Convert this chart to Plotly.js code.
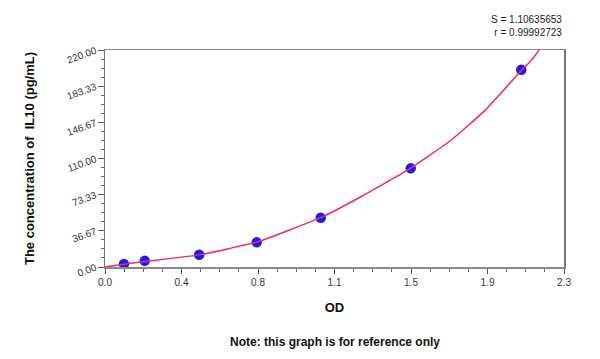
<!DOCTYPE html>
<html>
<head>
<meta charset="utf-8">
<script src="https://cdn.plot.ly/plotly-3.0.1.min.js"></script>
<style>html,body{margin:0;padding:0;background:#fff;}#chart{width:600px;height:359px;}</style>
</head>
<body>
<div id="chart"></div>
<script>
// Standard points (OD vs concentration)
const pointOD = [0.095, 0.199, 0.472, 0.760, 1.081, 1.532, 2.086];
const pointConc = [3.125, 6.25, 12.5, 25, 50, 100, 200];

// Fitted curve
const curveOD = [0, 0.095, 0.2, 0.47, 0.76, 1.08, 1.28, 1.53, 1.73, 1.9, 2.09, 2.14, 2.175];
const curveConc = [0, 2.8, 5.6, 12.3, 25.2, 50, 71, 100, 128, 158, 200, 210.4, 220];

// Tick labels
const xTickVals = [0, 0.38333, 0.76667, 1.15, 1.53333, 1.91667, 2.3];
const xTickText = ['0.0', '0.4', '0.8', '1.1', '1.5', '1.9', '2.3'];
const yTickVals = [0, 36.667, 73.333, 110, 146.667, 183.333, 220];
const yTickText = ['0.00', '36.67', '73.33', '110.00', '146.67', '183.33', '220.00'];

const fontFam = '"Liberation Sans", Arial, sans-serif';

const traces = [
  {
    x: pointOD, y: pointConc, type: 'scatter', mode: 'markers',
    marker: {color: '#1c1cf0', size: 10.5, line: {width: 0}},
    hoverinfo: 'skip', cliponaxis: false
  },
  {
    x: curveOD, y: curveConc, type: 'scatter', mode: 'lines',
    line: {color: '#f02a66', width: 1.5, shape: 'spline', smoothing: 0.4},
    hoverinfo: 'skip'
  }
];

const layout = {
  width: 600, height: 359,
  margin: {l: 105, r: 36, t: 50, b: 92},
  paper_bgcolor: '#fff', plot_bgcolor: '#fff',
  showlegend: false,
  font: {family: fontFam, size: 10, color: '#333'},
  xaxis: {
    range: [0, 2.3], tickmode: 'array', tickvals: xTickVals, ticktext: xTickText,
    ticks: 'outside', ticklen: 5, tickwidth: 1, tickcolor: '#555',
    showgrid: false, zeroline: false,
    showline: true, linecolor: '#888', linewidth: 1.5, mirror: true,
    tickfont: {family: fontFam, size: 10, color: '#333'},
    minor: {tickmode: 'linear', tick0: 0, dtick: 2.3 / 24, ticks: 'outside', ticklen: 3, tickcolor: '#666', showgrid: false},
    title: {text: '<b>OD</b>', font: {family: fontFam, size: 13, color: '#111'}, standoff: 16}
  },
  yaxis: {
    range: [0, 220], tickmode: 'array', tickvals: yTickVals, ticktext: yTickText,
    ticks: 'outside', ticklen: 6, tickwidth: 1, tickcolor: '#555', tickangle: -20,
    showgrid: false, zeroline: false,
    showline: true, linecolor: '#777', linewidth: 1.5, mirror: true,
    tickfont: {family: fontFam, size: 10, color: '#333'},
    minor: {tickmode: 'linear', tick0: 0, dtick: 220 / 24, ticks: 'outside', ticklen: 3, tickcolor: '#666', showgrid: false},
    title: {text: '<b>The concentration of  IL10 (pg/mL)</b>', font: {family: fontFam, size: 13, color: '#111'}, standoff: 28}
  },
  annotations: [
    {xref: 'paper', yref: 'paper', x: 1, y: 1, xanchor: 'right', yanchor: 'bottom', yshift: 10,
     text: 'S = 1.10635653<br>r = 0.99992723', showarrow: false, align: 'right',
     font: {family: fontFam, size: 10, color: '#222'}},
    {xref: 'paper', yref: 'paper', x: 0.5, y: 0, xanchor: 'center', yanchor: 'middle', yshift: -75,
     text: '<b>Note: this graph is for reference only</b>', showarrow: false,
     font: {family: fontFam, size: 12, color: '#111'}}
  ]
};

Plotly.newPlot('chart', traces, layout, {staticPlot: true, displayModeBar: false});
</script>
</body>
</html>
